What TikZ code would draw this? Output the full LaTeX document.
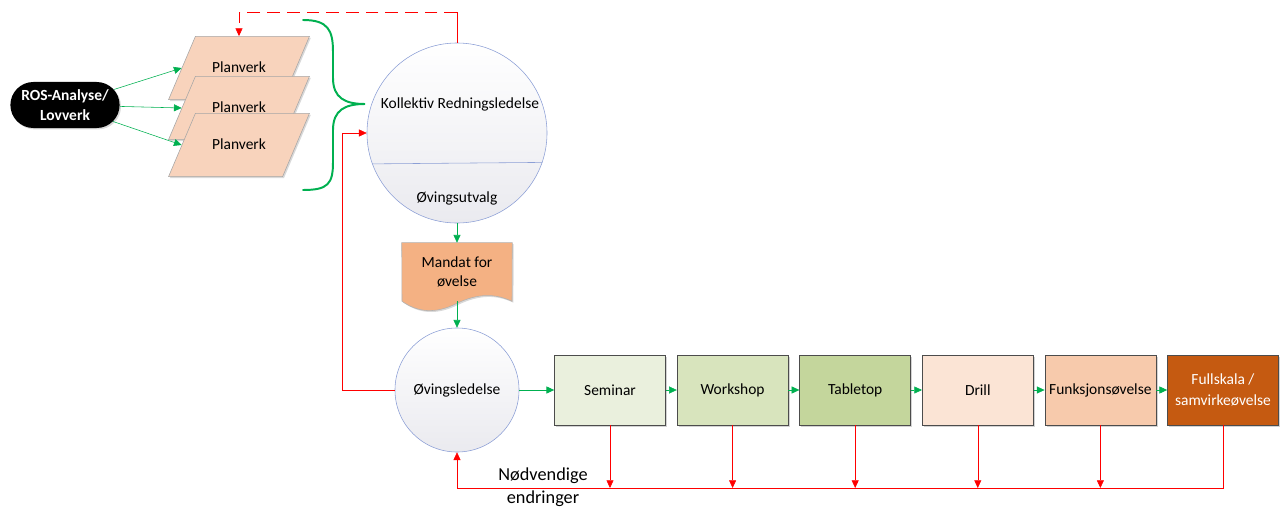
\documentclass[tikz,border=0pt]{standalone}
\usepackage{fontspec}
\setmainfont{Carlito}
\usepackage{xcolor}
\usepackage{tikz}
\usetikzlibrary{positioning,shapes.geometric,shapes.misc,arrows.meta,shadows,calc,backgrounds}
\definecolor{pgreen}{HTML}{00B050}
\definecolor{pred}{HTML}{FF0000}
\definecolor{ringblue}{HTML}{8C9FD6}
\definecolor{ringgray}{HTML}{EAEAEF}
\definecolor{plancol}{HTML}{F8D3BC}
\definecolor{doccol}{HTML}{F4B183}
\definecolor{semcol}{HTML}{EAF0DD}
\definecolor{wscol}{HTML}{D8E4BD}
\definecolor{ttcol}{HTML}{C4D69C}
\definecolor{drillcol}{HTML}{FBE4D5}
\definecolor{funkcol}{HTML}{F7CAAC}
\definecolor{fullcol}{HTML}{C55A11}

\begin{document}
\begin{tikzpicture}[x=0.025cm,y=-0.025cm,font=\fontsize{11}{13}\selectfont,
  garrow/.style={pgreen, -{Triangle[length=5.5pt,width=5pt]}},
  rarrow/.style={pred, -{Triangle[length=5.5pt,width=5pt]}},
  planbox/.style={trapezium, trapezium left angle=67, trapezium right angle=113,
    draw=gray!70, fill=plancol, inner sep=0pt, text width=62pt, align=center, text height=25.5pt, text depth=19.5pt,
    drop shadow={opacity=0.3, shadow xshift=1pt, shadow yshift=-1pt}},
  stepbox/.style={rectangle, draw=gray!60!black, minimum width=2.775cm, minimum height=1.75cm, inner sep=1pt,
    align=center, drop shadow={opacity=0.35, shadow xshift=1.2pt, shadow yshift=-1.2pt}},
  ring/.style={circle, draw=ringblue, top color=white, bottom color=ringgray, inner sep=0pt}]
\useasboundingbox (0,0) rectangle (1283,507);

\node[rounded rectangle, fill=black, text=white, font=\bfseries\fontsize{11}{14}\selectfont, align=center,
  minimum width=2.8cm, minimum height=1.15cm, inner sep=1pt,
  drop shadow={opacity=0.3, shadow xshift=1pt, shadow yshift=-1pt}] (ros) at (65,105) {ROS-Analyse/\\Lovverk};

\node[planbox] (pv1) at (239,68) {Planverk};
\node[planbox] (pv2) at (239,108) {Planverk};
\node[planbox] (pv3) at (239,145) {Planverk};
\draw[garrow] (ros) -- (pv1.west);
\draw[garrow] (ros) -- (pv2.west);
\draw[garrow] (ros) -- (pv3.west);

\node[ring, minimum size=4.5cm] (krl) at (457,133) {};
\node (krltxt) at (460,104) {Kollektiv Redningsledelse};
\node (utv) at (457,198) {Øvingsutvalg};
\draw[ringblue] (krl.-19.47) -- (krl.-160.53);

\draw[pgreen, line width=1.4pt, line cap=round] (303,20) .. controls (328,20) and (333,30) .. (333,52) -- (333,78)
  .. controls (333,98) and (345,104) .. (365,104) .. controls (345,104) and (333,110) .. (333,130) -- (333,162)
  .. controls (333,184) and (328,190) .. (303,190);

\coordinate (fbtop) at (457,12);
\draw[pred] (krl.north) -- (fbtop);
\draw[rarrow, dash pattern=on 9pt off 5pt] (fbtop) -| (pv1.center |- pv1.north);

\node[align=center, minimum width=2.75cm, minimum height=1.45cm, inner sep=0pt] (mandat) at (457,272) {Mandat for\\øvelse};
\begin{scope}[on background layer]
\draw[draw=gray!60, fill=doccol, drop shadow={opacity=0.3, shadow xshift=1pt, shadow yshift=-1pt}]
  (mandat.north west) -- (mandat.north east) -- ($(mandat.south)+(55,0)$)
  .. controls ($(mandat.south)+(38,-8)$) and ($(mandat.south)+(21,-8)$) .. ($(mandat.south)+(0,2)$)
  .. controls ($(mandat.south)+(-22,13)$) and ($(mandat.south)+(-39,11)$) .. ($(mandat.south)+(-55,0)$) -- cycle;
\end{scope}

\node[ring, minimum size=3.1cm] (ol) at (457,390) {Øvingsledelse};

\draw[garrow] (krl.south) -- (mandat.north);
\draw[garrow] (mandat.south) -- (ol.north);
\draw[rarrow] (ol.west) -- ++(-52,0) |- (krl.west);

\node[stepbox, fill=semcol] (sem) at (610,390) {Seminar};
\node[stepbox, fill=wscol, right=0.275cm of sem] (ws) {Workshop};
\node[stepbox, fill=ttcol, right=0.275cm of ws] (tt) {Tabletop};
\node[stepbox, fill=drillcol, right=0.275cm of tt] (drill) {Drill};
\node[stepbox, fill=funkcol, right=0.275cm of drill] (funk) {Funksjonsøvelse};
\node[stepbox, fill=fullcol, text=white, font=\fontsize{11}{15}\selectfont, right=0.275cm of funk] (full) {Fullskala /\\samvirkeøvelse};

\draw[garrow] (ol) -- (sem);
\draw[garrow] (sem) -- (ws);
\draw[garrow] (ws) -- (tt);
\draw[garrow] (tt) -- (drill);
\draw[garrow] (drill) -- (funk);
\draw[garrow] (funk) -- (full);

\coordinate (fbbase) at (1222,488);
\foreach \b in {sem,ws,tt,drill,funk} \draw[rarrow] (\b.south) -- (\b.south |- fbbase);
\draw[rarrow] (full.south) -- (full.south |- fbbase) -| (ol.south);

\node[font=\fontsize{13}{16}\selectfont, align=center] (endr) at (543,487) {Nødvendige\\endringer};
\end{tikzpicture}
\end{document}
